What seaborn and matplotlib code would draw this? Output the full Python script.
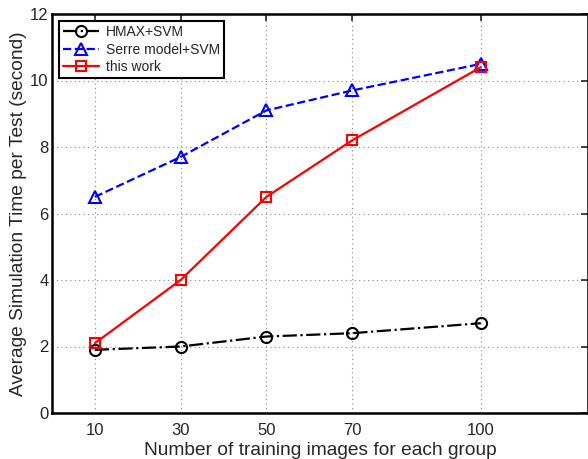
import numpy as np
import pandas as pd
import seaborn as sns
from matplotlib import pyplot as plt

# data
n_images = [10, 30, 50, 70, 100]
hmax_svm = [1.9, 2.0, 2.3, 2.4, 2.7]
serre_svm = [6.5, 7.7, 9.1, 9.7, 10.5]
this_work = [2.1, 4.0, 6.5, 8.2, 10.4]
y_ticks = [0, 2, 4, 6, 8, 10, 12]


def main():
    sns.set_style("white")
    plt.rcParams['font.family'] = ['Liberation Sans', 'DejaVu Sans']

    fig = plt.figure(figsize=(5.88, 4.59), dpi=100)
    ax = fig.add_axes([52 / 588, 46 / 459, 1 - 52 / 588, 399 / 459])

    series = [
        ("HMAX+SVM", hmax_svm, "black", "-.", "o", 8),
        ("Serre model+SVM", serre_svm, "blue", "--", "^", 9),
        ("this work", this_work, "red", "-", "s", 7),
    ]
    for name, vals, color, ls, mk, ms in series:
        df = pd.DataFrame({"x": n_images, "y": vals})
        sns.lineplot(data=df, x="x", y="y", ax=ax, color=color, linestyle=ls,
                     linewidth=1.6, marker=mk, markersize=ms,
                     markerfacecolor="none", markeredgecolor=color,
                     markeredgewidth=1.5, label=name)

    ax.set_xlim(0, 125)
    ax.set_ylim(0, 12)
    ax.set_xticks(n_images)
    ax.set_yticks(y_ticks)
    ax.tick_params(direction="in", length=5, width=1.2, top=True, right=True,
                   labelsize=12)
    ax.tick_params(axis="x", pad=7)
    ax.tick_params(axis="y", pad=2.5)
    ax.grid(True, linestyle=(0, (1, 3)), color="#888888", linewidth=0.8)
    for sp in ax.spines.values():
        sp.set_linewidth(1.8)
        sp.set_color("black")

    ax.set_xlabel("Number of training images for each group", fontsize=13.8, labelpad=3)
    ax.set_ylabel("Average Simulation Time per Test (second)", fontsize=13.8, labelpad=2)

    leg = ax.legend(loc="upper left", fontsize=10, frameon=True, fancybox=False,
                    borderaxespad=0.5, handlelength=2.6, borderpad=0.3,
                    labelspacing=0.25, handletextpad=0.5)
    leg.get_frame().set_edgecolor("black")
    leg.get_frame().set_linewidth(1.5)
    leg.get_frame().set_alpha(1)

    fig.savefig("out.png", dpi=100)
    plt.close(fig)


if __name__ == '__main__':
    main()
